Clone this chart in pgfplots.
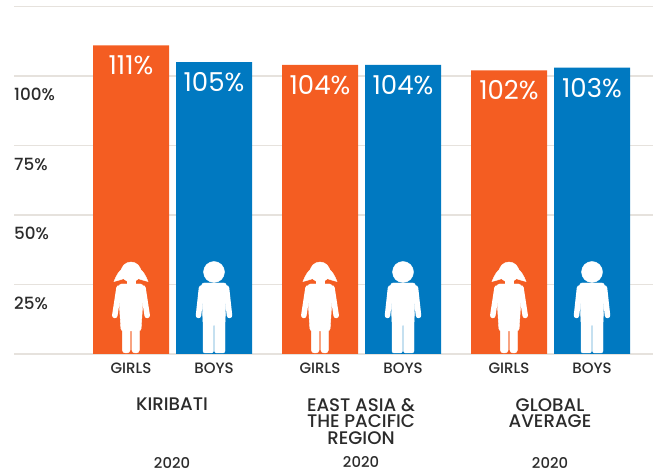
\documentclass[border=0pt]{standalone}
\usepackage{pgfplots}
\pgfplotsset{compat=1.18}
\usepackage{fontspec}
\setmainfont{Poppins Medium}
\newfontfamily\valuefont{Poppins}
\definecolor{girlsorange}{HTML}{F45D22}
\definecolor{boysblue}{HTML}{0079C1}
\definecolor{rulegrey}{HTML}{E6E2DD}
\definecolor{inktext}{HTML}{2B2B2B}

% Pictogram of a girl; the origin sits on the baseline below the figure
\pgfdeclareplotmark{girlicon}{%
 \begin{scope}[x=1pt,y=1pt]
  \fill (0,82) circle[radius=10pt];
  \fill (-17,72.5) .. controls (-15,78) and (-12,83) .. (-8,86) -- (8,86)
        .. controls (12,83) and (15,78) .. (17,72.5)
        .. controls (13,73.5) and (9,74.5) .. (6,76) -- (-6,76)
        .. controls (-9,74.5) and (-13,73.5) .. (-17,72.5) -- cycle;
  \fill (-4,68) rectangle (4,77);
  \fill[rounded corners=2.5pt] (-12,70) -- (12,70) -- (12,55) -- (10,23) -- (-10,23) -- (-12,55) -- cycle;
  \draw[line width=5.5pt,line cap=round] (-12,66) -- (-16.2,38.5);
  \draw[line width=5.5pt,line cap=round] (12,66) -- (16.2,38.5);
  \fill[rounded corners=3pt] (-8.7,26) -- (-8.7,1) -- (-0.9,1) -- (-0.9,26) -- cycle;
  \fill[rounded corners=3pt] (0.9,26) -- (0.9,1) -- (8.4,1) -- (8.4,26) -- cycle;
 \end{scope}
}
% Pictogram of a boy; same origin convention
\pgfdeclareplotmark{boyicon}{%
 \begin{scope}[x=1pt,y=1pt]
  \fill (0,82) circle[radius=10.5pt];
  \fill[rounded corners=2.5pt] (-12.5,71) -- (12.5,71) -- (11,30) -- (-11,30) -- cycle;
  \draw[line width=5.5pt,line cap=round] (-12.5,66) -- (-15.5,38.5);
  \draw[line width=5.5pt,line cap=round] (12.5,66) -- (15.5,38.5);
  \fill[rounded corners=2pt] (-11,35) -- (-11,1) -- (-0.6,1) -- (-0.6,30) -- (0.6,30) -- (0.6,1) -- (11,1) -- (11,35) -- cycle;
 \end{scope}
}

\begin{document}
\begin{tikzpicture}[x=1pt,y=1pt]
\useasboundingbox (0,0) rectangle (653,473);
\begin{axis}[
  at={(14pt,119pt)}, anchor=south west,
  scale only axis, width=639pt, height=347.5pt,
  xmin=14, xmax=653, ymin=0, ymax=125,
  clip=false,
  axis line style={draw=none},
  major tick length=0pt,
  ymajorgrids,
  grid style={rulegrey,line width=1.5pt},
  ytick={0,25,50,75,100,125},
  yticklabels={,25\%,50\%,75\%,100\%,},
  yticklabel style={anchor=west,xshift=0pt,yshift=-18.5pt,inner sep=0pt,
    font=\fontsize{16.8}{18}\selectfont,text=inktext},
  xtick={131,214,320,403,509,592},
  xticklabels={GIRLS,BOYS,GIRLS,BOYS,GIRLS,BOYS},
  xticklabel style={anchor=center,yshift=-14pt,inner sep=0pt,
    font=\fontsize{15}{16}\selectfont,text=inktext},
  tick label style={/pgf/number format/assume math mode=true},
]
\addplot[ybar, bar width=76pt, bar shift=0pt, draw=none, fill=girlsorange,
  /pgf/number format/assume math mode=true,
  nodes near coords={\pgfmathprintnumber{\pgfplotspointmeta}\%},
  nodes near coords align={anchor=center},
  every node near coord/.append style={text=white,yshift=-20pt,inner sep=0pt,
    font=\valuefont\fontsize{26}{28}\selectfont}]
  coordinates {(131,111) (320,104) (509,102)};
\addplot[ybar, bar width=76pt, bar shift=0pt, draw=none, fill=boysblue,
  /pgf/number format/assume math mode=true,
  nodes near coords={\pgfmathprintnumber{\pgfplotspointmeta}\%},
  nodes near coords align={anchor=center},
  every node near coord/.append style={text=white,yshift=-20pt,inner sep=0pt,
    font=\valuefont\fontsize{26}{28}\selectfont}]
  coordinates {(214,105) (403,104) (592,103)};
\addplot[only marks, mark=girlicon, white] coordinates {(131,0) (320,0) (509,0)};
\addplot[only marks, mark=boyicon, white] coordinates {(214,0) (403,0) (592,0)};

% Group names and reference years below the bars
\begin{scope}[every node/.style={text=inktext,align=center,inner sep=0pt,anchor=center,
    font=\fontsize{18.2}{16.5}\selectfont}]
  \node at (axis cs:172,-18.2) {KIRIBATI};
  \node at (axis cs:361,-24.2) {EAST ASIA \&\\THE PACIFIC\\REGION};
  \node at (axis cs:550,-21.2) {GLOBAL\\AVERAGE};
\end{scope}
\begin{scope}[every node/.style={text=inktext,inner sep=0pt,anchor=center,
    font=\fontsize{14.8}{16}\selectfont}]
  \node at (axis cs:172,-39.2) {2020};
  \node at (axis cs:361,-39.0) {2020};
  \node at (axis cs:550,-39.2) {2020};
\end{scope}
\end{axis}
\end{tikzpicture}
\end{document}
